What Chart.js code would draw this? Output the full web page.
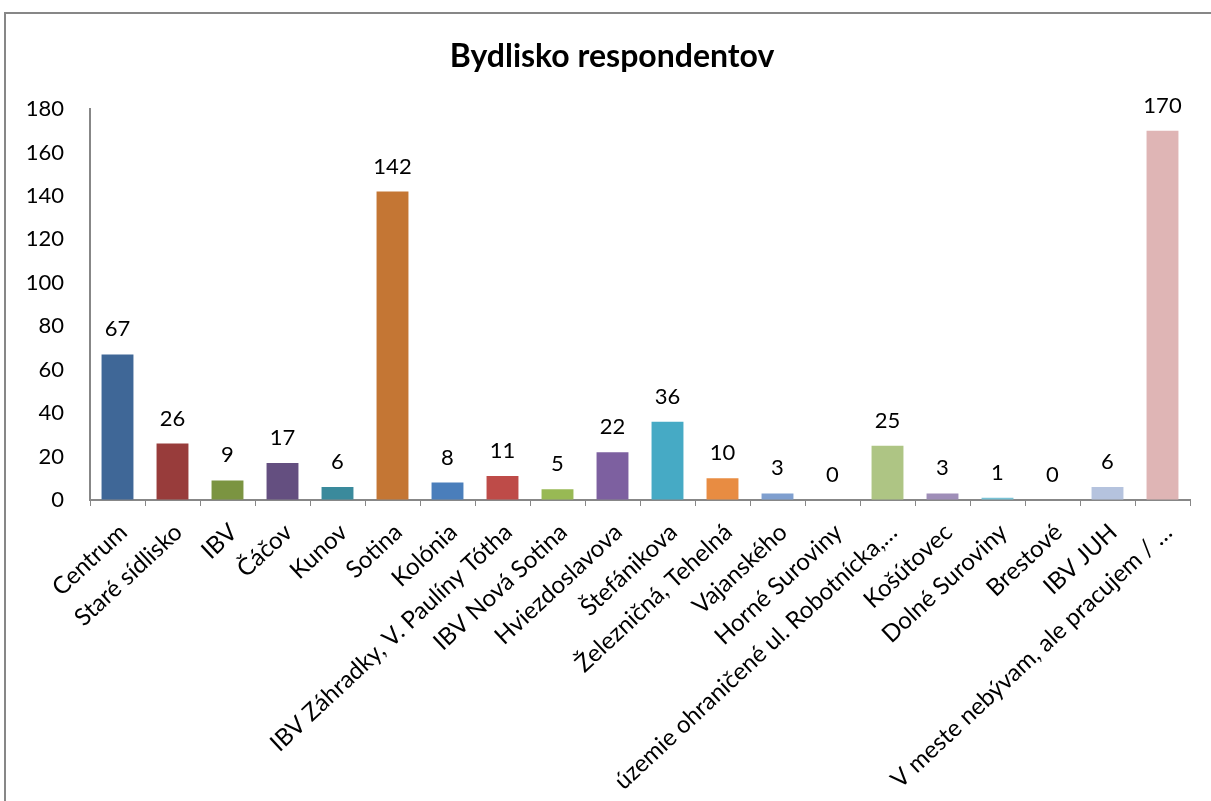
<!DOCTYPE html>
<html>
<head>
<meta charset="utf-8">
<script src="https://cdn.jsdelivr.net/npm/chart.js@4/dist/chart.umd.min.js"></script>
<style>
  html, body { margin: 0; padding: 0; background: #fff; overflow: hidden; }
  #frame { position: absolute; left: 4px; top: 12px; width: 1300px; height: 900px; border: 2px solid #878787; }
  #wrap { position: absolute; left: 0; top: 0; width: 1211px; height: 801px; }
</style>
</head>
<body>
<div id="frame"></div>
<div id="wrap"><canvas id="residenceChart"></canvas></div>
<script>
// Bydlisko respondentov - data
const chartTitle = 'Bydlisko respondentov';
const categories = [
    'Centrum', 'Staré sídlisko', 'IBV', 'Čáčov', 'Kunov', 'Sotina', 'Kolónia',
    'IBV Záhradky, V. Paulíny Tótha', 'IBV Nová Sotina', 'Hviezdoslavova', 'Štefánikova',
    'Železničná, Tehelná', 'Vajanského', 'Horné Suroviny', 'územie ohraničené ul. Robotnícka,…',
    'Košútovec', 'Dolné Suroviny', 'Brestové', 'IBV JUH', 'V meste nebývam, ale pracujem / …'
];
const respondents = [67, 26, 9, 17, 6, 142, 8, 11, 5, 22, 36, 10, 3, 0, 25, 3, 1, 0, 6, 170];
const yTicks = [0, 20, 40, 60, 80, 100, 120, 140, 160, 180];
const barColors = [
    '#3F6797', '#983C3B', '#7B9441', '#644F80', '#3A8A9C', '#C47634', '#4A7EBB',
    '#BE4B48', '#98B954', '#7D60A0', '#46AAC5', '#E88C42', '#7F9FCF', '#D88A87',
    '#AEC584', '#9F8EB8', '#79C3D6', '#F9B98A', '#B5C3DE', '#DFB5B5'
];

const fontFamily = 'Lato, "Liberation Sans", sans-serif';

// value labels above the bars
const valueLabels = {
    id: 'valueLabels',
    afterDatasetsDraw(chart) {
        const ctx = chart.ctx;
        const meta = chart.getDatasetMeta(0);
        ctx.save();
        ctx.font = '22px ' + fontFamily;
        ctx.fillStyle = '#000';
        ctx.textAlign = 'center';
        ctx.textBaseline = 'alphabetic';
        meta.data.forEach((bar, i) => {
            ctx.fillText(respondents[i], bar.x, bar.y - 18);
        });
        ctx.restore();
    }
};

// title sits a bit right of the canvas centre, like the original
const chartTitlePlugin = {
    id: 'chartTitlePlugin',
    afterDraw(chart) {
        const ctx = chart.ctx;
        ctx.save();
        ctx.font = 'bold 32px ' + fontFamily;
        ctx.fillStyle = '#000';
        ctx.textAlign = 'center';
        ctx.textBaseline = 'middle';
        ctx.fillText(chartTitle, 612, 57);
        ctx.restore();
    }
};

const ctx = document.getElementById('residenceChart').getContext('2d');
const residenceChart = new Chart(ctx, {
    type: 'bar',
    data: {
        labels: categories,
        datasets: [{
            data: respondents,
            backgroundColor: barColors,
            borderWidth: 0,
            barPercentage: 0.58,
            categoryPercentage: 1
        }]
    },
    options: {
        responsive: true,
        maintainAspectRatio: false,
        animation: false,
        layout: { padding: { left: 0, right: 21, top: 109, bottom: 0 } },
        scales: {
            x: {
                afterFit: function(scale) { scale.height = 301; },
                grid: {
                    offset: true,
                    drawOnChartArea: false,
                    drawTicks: true,
                    tickLength: 6,
                    color: '#878787'
                },
                border: { color: '#878787', width: 2 },
                ticks: {
                    autoSkip: false,
                    minRotation: 43,
                    maxRotation: 43,
                    padding: 12,
                    labelOffset: 6,
                    color: '#000',
                    font: { family: fontFamily, size: 24 }
                }
            },
            y: {
                min: 0,
                max: 180,
                afterFit: function(scale) { scale.width = 90; },
                afterBuildTicks: function(scale) {
                    scale.ticks = yTicks.map(v => ({ value: v }));
                },
                grid: { display: true, drawOnChartArea: false, drawTicks: false },
                border: { color: '#878787', width: 2 },
                ticks: {
                    padding: 26,
                    color: '#000',
                    font: { family: fontFamily, size: 22 }
                }
            }
        },
        plugins: {
            legend: { display: false },
            tooltip: { enabled: false },
            title: { display: false }
        }
    },
    plugins: [valueLabels, chartTitlePlugin]
});
</script>
</body>
</html>
